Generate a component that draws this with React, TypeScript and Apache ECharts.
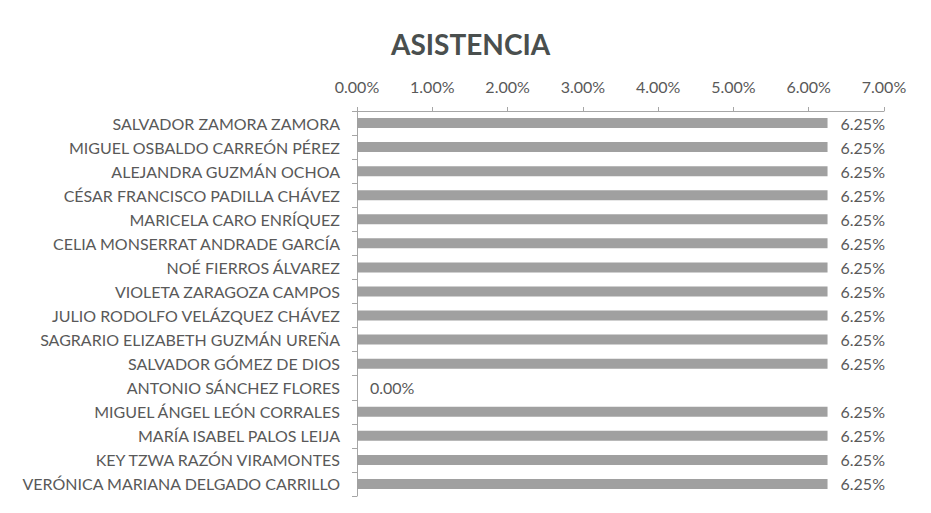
import React, { useEffect, useRef } from "react";
import * as echarts from "echarts";

const names: string[] = [
  "SALVADOR ZAMORA ZAMORA",
  "MIGUEL OSBALDO CARREÓN PÉREZ",
  "ALEJANDRA GUZMÁN OCHOA",
  "CÉSAR FRANCISCO PADILLA CHÁVEZ",
  "MARICELA CARO ENRÍQUEZ",
  "CELIA MONSERRAT ANDRADE GARCÍA",
  "NOÉ FIERROS ÁLVAREZ",
  "VIOLETA ZARAGOZA CAMPOS",
  "JULIO RODOLFO VELÁZQUEZ CHÁVEZ",
  "SAGRARIO ELIZABETH GUZMÁN UREÑA",
  "SALVADOR GÓMEZ DE DIOS",
  "ANTONIO SÁNCHEZ FLORES",
  "MIGUEL ÁNGEL LEÓN CORRALES",
  "MARÍA ISABEL PALOS LEIJA",
  "KEY TZWA RAZÓN VIRAMONTES",
  "VERÓNICA MARIANA DELGADO CARRILLO",
];

const attendance: number[] = [
  6.25, 6.25, 6.25, 6.25, 6.25, 6.25, 6.25, 6.25, 6.25, 6.25, 6.25, 0, 6.25, 6.25, 6.25, 6.25,
];

const title = "ASISTENCIA";
const axisMin = 0;
const axisMax = 7;
const axisStep = 1;

const FONT = "Lato, 'Open Sans', sans-serif";

export default function App() {
  const ref = useRef<HTMLDivElement>(null);
  useEffect(() => {
    if (!ref.current) return;
    const chart = echarts.init(ref.current, null, { renderer: "svg" });
    chart.setOption({
      animation: false,
      backgroundColor: "#ffffff",
      title: {
        text: title,
        left: 378,
        top: 17,
        textStyle: { fontFamily: FONT, fontSize: 28, fontWeight: "bold", color: "#4a4f4e" },
      },
      grid: { left: 349, top: 103, right: 39, bottom: 9, containLabel: false },
      xAxis: {
        type: "value",
        position: "top",
        min: axisMin,
        max: axisMax,
        interval: axisStep,
        axisLine: { show: true, lineStyle: { color: "#a6a6a6", width: 1 } },
        axisTick: { show: true, length: 4, lineStyle: { color: "#a6a6a6" } },
        splitLine: { show: false },
        axisLabel: {
          formatter: (v: number) => v.toFixed(2) + "%",
          color: "#595959",
          fontFamily: FONT,
          fontSize: 16,
          margin: 17,
        },
      },
      yAxis: {
        type: "category",
        data: names,
        inverse: true,
        axisLine: { show: true, lineStyle: { color: "#a6a6a6", width: 1 } },
        axisTick: { show: true, length: 5, lineStyle: { color: "#a6a6a6" } },
        axisLabel: {
          color: "#595959",
          fontFamily: FONT,
          fontSize: 16,
          margin: 17,
        },
      },
      series: [
        {
          type: "bar",
          data: attendance,
          barWidth: 10,
          itemStyle: { color: "#a0a0a0" },
          label: {
            show: true,
            position: "right",
            distance: 13,
            formatter: (p: any) => Number(p.value).toFixed(2) + "%",
            color: "#595959",
            fontFamily: FONT,
            fontSize: 16,
          },
        },
      ],
    });
    return () => chart.dispose();
  }, []);
  return <div ref={ref} style={{ width: 915, height: 497 }} />;
}
